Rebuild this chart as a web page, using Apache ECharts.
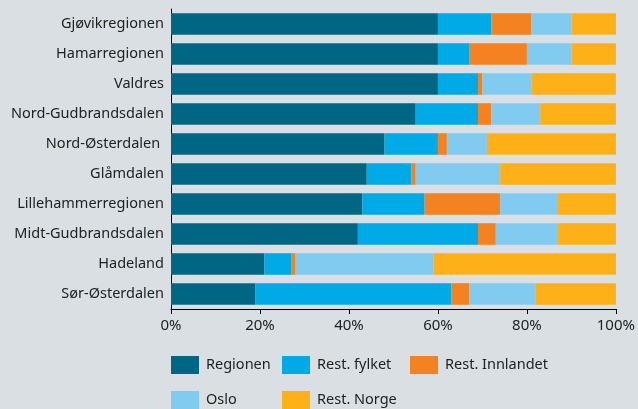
<!DOCTYPE html>
<html><head><meta charset="utf-8">
<script src="https://cdn.jsdelivr.net/npm/echarts@6/dist/echarts.min.js"></script>
<style>html,body{margin:0;padding:0;background:#d9dfe3;}#c{width:638px;height:409px;}</style>
</head><body><div id="c"></div>
<script>
const categories = ['Gjøvikregionen','Hamarregionen','Valdres','Nord-Gudbrandsdalen','Nord-Østerdalen ','Glåmdalen','Lillehammerregionen','Midt-Gudbrandsdalen','Hadeland','Sør-Østerdalen'];
const regionen   = [60,60,60,55,48,44,43,42,21,19];
const restFylket = [12, 7, 9,14,12,10,14,27, 6,44];
const restInnl   = [ 9,13, 1, 3, 2, 1,17, 4, 1, 4];
const oslo       = [ 9,10,11,11, 9,19,13,14,31,15];
const restNorge  = [10,10,19,17,29,26,13,13,41,18];
const seriesNames = ['Regionen','Rest. fylket','Rest. Innlandet','Oslo','Rest. Norge'];
const colors = ['#006684','#00aae6','#f58220','#82cbf0','#fdb018'];
const xTicks = [0,20,40,60,80,100];

const font = 'Noto Sans';
const data = [regionen,restFylket,restInnl,oslo,restNorge];
const legendPos = [[171,356],[282,356],[410,356],[171,391],[282,391]];
const chart = echarts.init(document.getElementById('c'));
chart.setOption({
  backgroundColor:'#d9dfe3',
  textStyle:{fontFamily:font},
  animation:false,
  grid:{left:171,right:22,top:9,bottom:100},
  xAxis:{type:'value',min:xTicks[0],max:xTicks[xTicks.length-1],interval:20,
    axisLine:{show:true,lineStyle:{color:'#000',width:1}},
    axisTick:{show:true,length:5,lineStyle:{color:'#000'}},
    splitLine:{show:false},
    axisLabel:{formatter:'{value}%',color:'#222',fontSize:15,margin:9,fontFamily:font}},
  yAxis:{type:'category',inverse:true,data:categories,
    axisLine:{show:true,lineStyle:{color:'#000',width:1}},
    axisTick:{show:false},
    axisLabel:{color:'#222',fontSize:14.5,margin:7,fontFamily:font}},
  legend: seriesNames.map((n,i)=>({data:[n],left:legendPos[i][0],top:legendPos[i][1],
    itemWidth:28,itemHeight:18,icon:'rect',itemGap:0,padding:0,
    textStyle:{color:'#222',fontSize:14.5,fontFamily:font,padding:[0,0,0,2]}})),
  series: seriesNames.map((n,i)=>({name:n,type:'bar',stack:'s',data:data[i],
    barWidth:'72%',itemStyle:{color:colors[i]}}))
});
</script></body></html>
